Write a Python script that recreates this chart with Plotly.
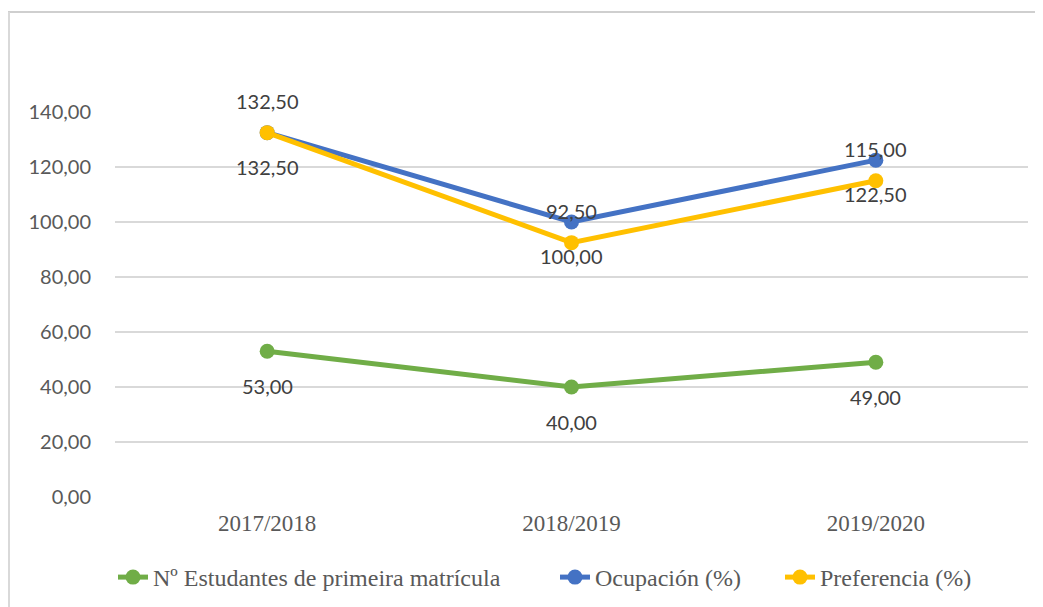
import plotly.graph_objects as go

categories = ["2017/2018", "2018/2019", "2019/2020"]
estudantes = [53.00, 40.00, 49.00]
ocupacion = [132.50, 100.00, 122.50]
preferencia = [132.50, 92.50, 115.00]
y_ticks = [0, 20, 40, 60, 80, 100, 120, 140]

names = ["Nº Estudantes de primeira matrícula", "Ocupación (%)", "Preferencia (%)"]
colors = ["#70AD47", "#4472C4", "#FFC000"]
legend_ids = ["legend", "legend2", "legend3"]

def fmt(v):
    return f"{v:.2f}".replace(".", ",")

# page body has an 8px margin; screen coords below are those of the reference
OFF = 8
SW, SH = 1043, 607
PL, PR, PT, PB = 115, 1028, 112, 497   # plot area in screen px
W, H = SW - OFF, SH - OFF
L, R, T, B = PL - OFF, SW - PR, PT - OFF, SH - PB
pw, ph = PR - PL, PB - PT

def px_x(p):
    return (p - PL) / pw

def px_y(p):
    return (PB - p) / ph

fig = go.Figure()
for vals, name, col, lg in zip([estudantes, ocupacion, preferencia], names, colors, legend_ids):
    fig.add_trace(go.Scatter(
        x=categories, y=vals, name=name, mode="lines+markers",
        line=dict(color=col, width=5),
        marker=dict(color=col, size=15),
        cliponaxis=False, legend=lg,
    ))

# data labels (yellow above its own point, blue and green below)
label_cfg = [(estudantes, 35), (ocupacion, 34), (preferencia, -32)]
for vals, shift in label_cfg:
    for c, v in zip(categories, vals):
        fig.add_annotation(x=c, y=v, text=fmt(v), showarrow=False,
                           yshift=-shift, xanchor="center", yanchor="middle",
                           font=dict(family="Lato", size=20, color="#404040"))

fig.add_shape(type="line", xref="paper", yref="paper",
              x0=px_x(0), x1=px_x(SW), y0=px_y(12), y1=px_y(12),
              line=dict(color="#CFCFCF", width=2))
fig.add_shape(type="line", xref="paper", yref="paper",
              x0=px_x(9), x1=px_x(9), y0=px_y(12), y1=px_y(SH),
              line=dict(color="#D9D9D9", width=2))

legend_font = dict(family="Liberation Serif", size=24, color="#595959")
legend_x = [113, 555, 780]
legend_kw = {}
for lg, lx in zip(legend_ids, legend_x):
    legend_kw[lg] = dict(orientation="h", x=px_x(lx), xanchor="left",
                         y=px_y(555), yanchor="top", font=legend_font,
                         bgcolor="rgba(0,0,0,0)")

fig.update_layout(
    width=W, height=H,
    margin=dict(l=L, r=R, t=T, b=B, autoexpand=False),
    paper_bgcolor="white", plot_bgcolor="white",
    showlegend=True,
    xaxis=dict(type="category", range=[-0.5, 2.5], showgrid=False, zeroline=False,
               showline=False, ticks="",
               tickfont=dict(family="Liberation Serif", size=23, color="#595959"),
               ticklabelstandoff=10),
    yaxis=dict(range=[0, 140], tickvals=y_ticks,
               ticktext=[fmt(v) for v in y_ticks],
               showgrid=True, gridcolor="#D9D9D9", gridwidth=1.5,
               zeroline=False, showline=False, ticks="",
               tickfont=dict(family="Lato", size=20, color="#595959"),
               ticklabelstandoff=23),
    **legend_kw,
)

fig.write_html("out.html")
